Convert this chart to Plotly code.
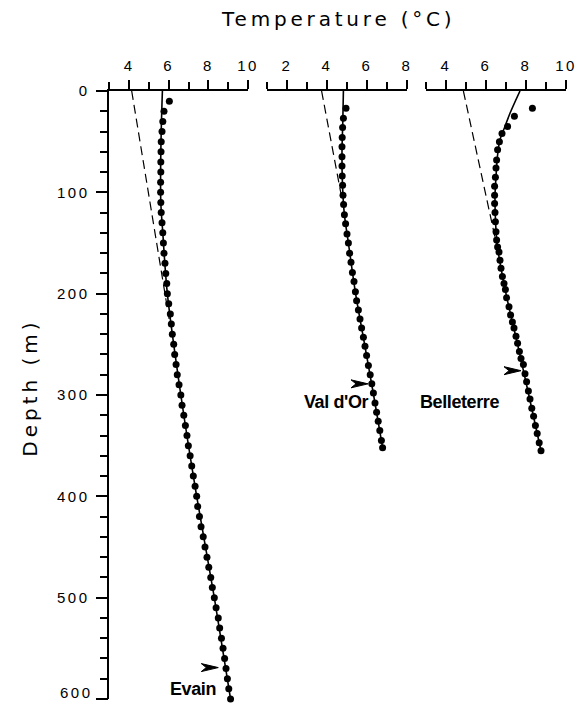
import plotly.graph_objects as go

# ---------------- data ----------------
# Evain
evain_depth = [10, 20, 30, 40, 50, 60, 70, 80, 90, 100, 110, 120, 130, 140, 150, 160, 170, 180, 190, 200,
               210, 220, 230, 240, 250, 260, 270, 280, 290, 300, 310, 320, 330, 340, 350, 360, 370, 380, 390, 400,
               410, 420, 430, 440, 450, 460, 470, 480, 490, 500, 510, 520, 530, 540, 550, 560, 570, 580, 590, 600]
evain_temp = [6.03, 5.76, 5.70, 5.66, 5.62, 5.61, 5.60, 5.60, 5.59, 5.59, 5.60, 5.62, 5.66, 5.70, 5.73, 5.76, 5.81, 5.85, 5.90, 5.93,
              6.00, 6.08, 6.13, 6.18, 6.25, 6.30, 6.37, 6.43, 6.52, 6.61, 6.67, 6.76, 6.84, 6.92, 6.99, 7.08, 7.16, 7.24, 7.33, 7.41,
              7.46, 7.55, 7.63, 7.74, 7.83, 7.93, 8.02, 8.12, 8.20, 8.30, 8.39, 8.50, 8.57, 8.66, 8.74, 8.82, 8.89, 8.96, 9.03, 9.12]
evain_model_depth = [0, 40, 80, 110, 140, 200, 300, 400, 500, 600]
evain_model_temp = [5.68, 5.62, 5.59, 5.60, 5.70, 5.93, 6.61, 7.41, 8.30, 9.12]
evain_trend_depth = [0, 225]
evain_trend_temp = [4.13, 6.02]

# Val d'Or
valdor_depth = [17, 27, 36, 46, 55, 65, 74, 84, 93, 103, 112, 122, 131, 141, 150, 160, 169, 179, 188, 198,
                207, 216, 225, 234, 243, 252, 261, 271, 280, 289, 298, 308, 317, 326, 335, 345, 352]
valdor_temp = [4.95, 4.82, 4.78, 4.76, 4.75, 4.75, 4.75, 4.76, 4.78, 4.80, 4.83, 4.87, 4.93, 5.00, 5.07, 5.13, 5.20, 5.27, 5.35, 5.42,
               5.48, 5.57, 5.65, 5.73, 5.82, 5.90, 5.98, 6.07, 6.16, 6.24, 6.32, 6.40, 6.48, 6.56, 6.64, 6.72, 6.78]
valdor_model_depth = [0, 30, 60, 90, 120, 150, 200, 250, 300, 352]
valdor_model_temp = [4.82, 4.79, 4.75, 4.77, 4.86, 5.07, 5.43, 5.88, 6.33, 6.78]
valdor_trend_depth = [0, 112]
valdor_trend_temp = [3.73, 4.80]

# Belleterre
belle_depth = [17, 25, 35, 42, 50, 58, 68, 76, 85, 94, 103, 111, 120, 129, 139, 147, 154, 159, 167, 175,
               183, 190, 196, 204, 213, 221, 228, 234, 242, 249, 257, 264, 270, 279, 287, 296, 304, 313, 321, 330,
               338, 347, 355]
belle_temp = [8.32, 7.42, 7.08, 6.80, 6.67, 6.58, 6.53, 6.50, 6.47, 6.43, 6.43, 6.43, 6.45, 6.47, 6.50, 6.53, 6.58, 6.65, 6.70, 6.75,
              6.82, 6.90, 6.97, 7.03, 7.15, 7.23, 7.32, 7.40, 7.50, 7.58, 7.67, 7.75, 7.87, 7.95, 8.03, 8.12, 8.20, 8.29, 8.38, 8.47,
              8.56, 8.66, 8.75]
belle_model_depth = [0, 22, 35, 48, 65, 85, 104, 130, 153, 200, 250, 300, 355]
belle_model_temp = [7.70, 7.20, 6.95, 6.70, 6.57, 6.50, 6.45, 6.48, 6.57, 7.00, 7.58, 8.14, 8.75]
belle_trend_depth = [0, 160]
belle_trend_temp = [4.87, 6.62]

x_ranges = [[3, 10], [1, 8], [3, 10]]
x_tickvals = [[4, 6, 8, 10], [2, 4, 6, 8], [4, 6, 8, 10]]
y_tickvals = [0, 100, 200, 300, 400, 500, 600]
site_names = ["Evain", "Val d'Or", "Belleterre"]
# (temperature of arrow tip, depth of arrow tip, temperature at text right edge, depth of text)
label_pos = [(8.50, 569, 8.50, 590), (6.05, 289, 6.20, 307), (7.75, 276, 6.75, 307)]

# ---------------- figure ----------------
W, H = 576, 705
TOP, BOT = 91, 699.5
fig = go.Figure()


def py(p):
    """pixel row -> paper y"""
    return (BOT - p) / (BOT - TOP)


def spaced(s, ls=2.5):
    return f'<span style="letter-spacing:{ls}px">{s}</span>'


datasets = [
    (evain_depth, evain_temp, evain_model_depth, evain_model_temp, evain_trend_depth, evain_trend_temp),
    (valdor_depth, valdor_temp, valdor_model_depth, valdor_model_temp, valdor_trend_depth, valdor_trend_temp),
    (belle_depth, belle_temp, belle_model_depth, belle_model_temp, belle_trend_depth, belle_trend_temp),
]
for i, (dd, tt, md, mt, td, tr) in enumerate(datasets):
    xa = "x" if i == 0 else f"x{i+1}"
    fig.add_trace(go.Scatter(x=tr, y=td, xaxis=xa, yaxis="y", mode="lines",
                             line=dict(color="black", width=1.2, dash="9px,5px"), showlegend=False))
    fig.add_trace(go.Scatter(x=mt, y=md, xaxis=xa, yaxis="y", mode="lines", line_shape="spline",
                             line=dict(color="black", width=1.6), showlegend=False, cliponaxis=False))
    fig.add_trace(go.Scatter(x=tt, y=dd, xaxis=xa, yaxis="y", mode="markers", cliponaxis=False,
                             marker=dict(color="black", size=7), showlegend=False))

doms = [[109.3, 248.0], [267.0, 407.0], [426.0, 566.0]]
tickfont = dict(family="Liberation Sans, Arial, sans-serif", size=15, color="black")

for i in range(3):
    key = "xaxis" if i == 0 else f"xaxis{i+1}"
    fig.layout[key] = dict(
        domain=[doms[i][0] / W, doms[i][1] / W], range=x_ranges[i], side="top", anchor="y",
        showline=True, linecolor="black", linewidth=1.6, showgrid=False, zeroline=False,
        tickmode="array", tickvals=x_tickvals[i], ticktext=[spaced(str(v)) for v in x_tickvals[i]],
        ticks="outside", ticklen=9, tickwidth=1.6, tickcolor="black", tickfont=tickfont,
        ticklabeloverflow="allow", ticklabelstandoff=3,
        minor=dict(tickmode="array", tickvals=[v for v in range(x_ranges[i][0], x_ranges[i][1]) if v % 2 == 1],
                   ticks="outside", ticklen=7, tickwidth=1.6, tickcolor="black"),
    )

# the bottom label (600) sits at the page edge, so it is written as a separate text just above
y_ticktext = [spaced(str(v)) if v != 600 else "" for v in y_tickvals]
fig.update_layout(
    yaxis=dict(domain=[0, 1], range=[600, 0], anchor="x", showline=True, linecolor="black", linewidth=1.6,
               showgrid=False, zeroline=False, tickmode="array", tickvals=y_tickvals,
               ticktext=y_ticktext, ticks="outside", ticklabeloverflow="allow", ticklabelstandoff=3,
               ticklen=12, tickwidth=1.6, tickcolor="black", tickfont=tickfont,
               minor=dict(dtick=20, ticks="outside", ticklen=8, tickwidth=1.6, tickcolor="black")),
    width=W, height=H, margin=dict(l=0, r=0, t=TOP, b=H - BOT, autoexpand=False),
    paper_bgcolor="white", plot_bgcolor="white", showlegend=False,
)
fig.add_annotation(text=spaced(str(y_tickvals[-1])), xref="paper", yref="paper", x=94.5 / W, y=py(693),
                   xanchor="right", yanchor="middle", showarrow=False, font=tickfont)

fig.add_annotation(text=spaced("Temperature (°C)", 3.8), xref="paper", yref="paper", x=338 / W, y=py(19),
                   xanchor="center", yanchor="middle", showarrow=False,
                   font=dict(family="DejaVu Sans, sans-serif", size=20, color="black"))
fig.add_annotation(text=spaced("Depth (m)", 4), xref="paper", yref="paper", x=30 / W, y=py(388),
                   xanchor="center", yanchor="middle", showarrow=False, textangle=-90,
                   font=dict(family="DejaVu Sans, sans-serif", size=20, color="black"))

labfont = dict(family="Liberation Sans, Arial, sans-serif", size=18, color="black")
for i, name in enumerate(site_names):
    xr = "x" if i == 0 else f"x{i+1}"
    ax_t, ad, tx, ld = label_pos[i]
    fig.add_annotation(text=f'<b><span style="letter-spacing:-0.4px">{name}</span></b>', xref=xr, yref="y",
                       x=tx, y=ld, xanchor="right", yanchor="middle", showarrow=False, font=labfont)
    fig.add_shape(type="path", xref=xr, yref="y", xsizemode="pixel", ysizemode="pixel",
                  xanchor=ax_t, yanchor=ad, path="M0,0 L-17,4 L-12,0 L-17,-4 Z",
                  fillcolor="black", line=dict(color="black", width=1))

fig.write_html("out.html")
